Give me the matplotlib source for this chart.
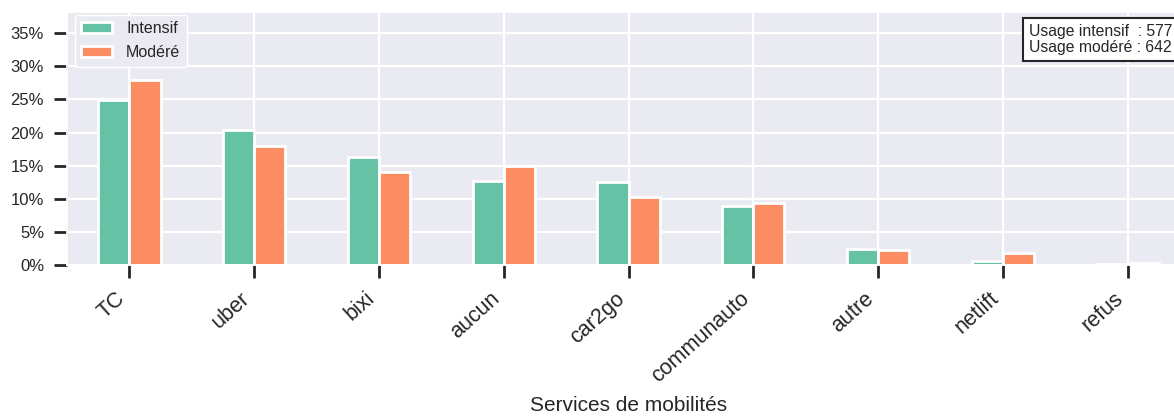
import matplotlib
matplotlib.use("Agg")
import matplotlib.pyplot as plt
import seaborn as sns
import numpy as np
import pandas as pd
from matplotlib.ticker import PercentFormatter

categories = ["TC", "uber", "bixi", "aucun", "car2go", "communauto", "autre", "netlift", "refus"]
intensif = [0.249, 0.204, 0.163, 0.127, 0.125, 0.0895, 0.0235, 0.006, 0.0015]
modere = [0.279, 0.179, 0.141, 0.150, 0.102, 0.094, 0.0228, 0.018, 0.003]
series_names = ["Intensif", "Modéré"]
n_intensif = 577
n_modere = 642

sns.set_theme(style="darkgrid")
plt.rcParams['font.family'] = ['Arial', 'Liberation Sans', 'DejaVu Sans']

colors = sns.color_palette("Set2", 2)

fig = plt.figure(figsize=(11.74, 4.16), dpi=100)
ax = fig.add_axes([67/1174, 151/416, 1123/1174, 253/416])

df = pd.DataFrame({series_names[0]: intensif, series_names[1]: modere}, index=categories)
df.plot(kind="bar", ax=ax, color=colors, edgecolor="white", linewidth=2, width=0.5)

ax.set_ylim(0, 0.382)
ax.set_yticks(np.arange(0, 0.36, 0.05))
ax.yaxis.set_major_formatter(PercentFormatter(1.0, decimals=0))
ax.grid(True, color="white", linewidth=1.6)
ax.set_axisbelow(True)

ax.tick_params(axis="both", which="major", length=9.5, width=2, color="#262626",
               bottom=True, left=True)
ax.tick_params(axis="y", labelsize=12, pad=7)
ax.tick_params(axis="x", pad=7)
ax.set_xticklabels(categories, rotation=42, ha="right", fontsize=15.5)
ax.set_xlabel("Services de mobilités", fontsize=15, labelpad=7)

leg = ax.legend(loc="upper left", bbox_to_anchor=(8/1123, 1 - 3/253), borderaxespad=0,
                fontsize=11.5, frameon=True, facecolor="#eaeaf2",
                edgecolor="white", framealpha=1,
                labelspacing=0.55, handlelength=1.9, handletextpad=0.9)

ax.text(0.857, 0.952, "Usage intensif  : %d\nUsage modéré : %d" % (n_intensif, n_modere),
        transform=ax.transAxes, fontsize=11.3, va="top", ha="left", linespacing=1.05,
        bbox=dict(boxstyle="square,pad=0.38", facecolor="white", edgecolor="#262626", linewidth=1.5))

fig.savefig("out.png", dpi=100)
